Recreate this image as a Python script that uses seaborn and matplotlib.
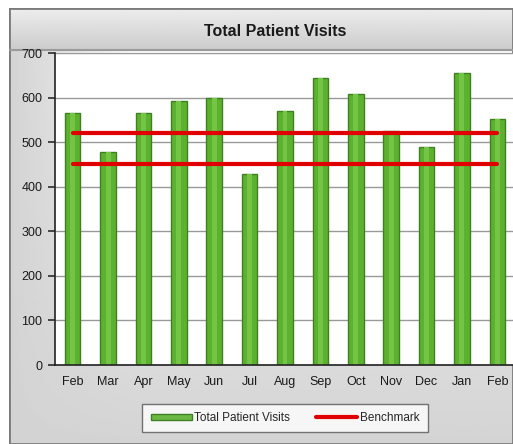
import matplotlib
matplotlib.use("Agg")
import matplotlib.pyplot as plt
import seaborn as sns
import numpy as np
import pandas as pd
from matplotlib.patches import Rectangle, Patch
from matplotlib.lines import Line2D

months = ["Feb", "Mar", "Apr", "May", "Jun", "Jul", "Aug", "Sep", "Oct", "Nov", "Dec", "Jan", "Feb"]
visits = [565, 478, 565, 593, 598, 429, 570, 643, 609, 526, 488, 656, 552]
benchmarks = [520, 450]
yticks = [0, 100, 200, 300, 400, 500, 600, 700]

sns.set_theme(style="white")
plt.rcParams["font.family"] = ["Liberation Sans", "DejaVu Sans"]

fig = plt.figure(figsize=(5.13, 4.44), dpi=100)
fig.patch.set_facecolor("white")

# gray chart panel with soft gradient
bg = fig.add_axes([9 / 513, 0, 1 - 9 / 513, 1 - 8 / 444])
gy = np.linspace(0, 1, 200)[:, None]
gx = np.linspace(0, 1, 200)[None, :]
grad = 0.83 + 0.15 * (1 - gy) * np.clip(gx * 4, 0, 1)
bg.imshow(grad, extent=[0, 1, 0, 1], cmap="gray", vmin=0, vmax=1, aspect="auto", origin="upper")
# title band
tb_h = 42 / 436
tband = np.linspace(0.93, 0.80, 50)[:, None] * np.ones((1, 10))
bg.imshow(tband, extent=[0, 1, 1 - tb_h, 1], cmap="gray", vmin=0, vmax=1, aspect="auto")
bg.plot([0, 1], [1 - tb_h, 1 - tb_h], color="#9a9a9a", lw=1.5)
bg.add_patch(Rectangle((0, 0), 1, 1, fill=False, edgecolor="#7a7a7a", lw=2))
bg.set_xlim(0, 1)
bg.set_ylim(0, 1)
bg.axis("off")
fig.text(275 / 513, 1 - 31 / 444, "Total Patient Visits", ha="center", va="center",
         fontsize=11.5, fontweight="bold", color="#1a1a1a")

ax = fig.add_axes([55 / 513, 1 - 365 / 444, 460 / 513, 312 / 444])
ax.set_facecolor("white")
df = pd.DataFrame({"pos": list(range(len(months))), "visits": visits})
sns.barplot(data=df, x="pos", y="visits", color="#5cb22f", width=0.44,
            edgecolor="#3f8022", linewidth=1, saturation=1, ax=ax, zorder=2)
# light highlight down the middle of each bar
sns.barplot(data=df, x="pos", y="visits", color="#74c445", width=0.14,
            linewidth=0, saturation=1, ax=ax, zorder=2.1)
for b in benchmarks:
    ax.plot([0, len(months) - 1], [b, b], color="#e00000", lw=3, zorder=3)

ax.set_xlim(-0.5, len(months) - 0.5)
ax.set_ylim(0, 700)
ax.set_yticks(yticks)
ax.set_yticklabels([str(t) for t in yticks], fontsize=9, color="#1a1a1a")
ax.set_xticks(range(len(months)))
ax.set_xticklabels(months, fontsize=9, color="#1a1a1a")
ax.set_xticks(np.arange(0.5, len(months) - 0.5, 1), minor=True)
ax.tick_params(axis="x", which="major", length=0, pad=8)
ax.tick_params(axis="x", which="minor", length=4, color="#333333", direction="out")
ax.tick_params(axis="y", length=5, color="#333333", direction="out", left=True, pad=4)
ax.grid(axis="y", color="#999999", lw=1, zorder=0)
ax.set_axisbelow(True)
ax.set_xlabel("")
ax.set_ylabel("")
for s in ["top", "right"]:
    ax.spines[s].set_visible(False)
for s in ["left", "bottom"]:
    ax.spines[s].set_color("#222222")
    ax.spines[s].set_linewidth(1.2)

handles = [Patch(facecolor="#6cb844", edgecolor="#3f8022", label="Total Patient Visits"),
           Line2D([0], [0], color="#e00000", lw=3, label="Benchmark")]
leg = fig.legend(handles=handles, loc="center", bbox_to_anchor=(285 / 513, 1 - 418 / 444),
                 ncol=2, fontsize=8.5, frameon=True, fancybox=False, handlelength=3.5,
                 handleheight=0.45, handletextpad=0.2, columnspacing=2.2, borderpad=0.7)
leg.get_frame().set_edgecolor("#555555")
leg.get_frame().set_linewidth(1)

fig.savefig("out.png", dpi=100)
